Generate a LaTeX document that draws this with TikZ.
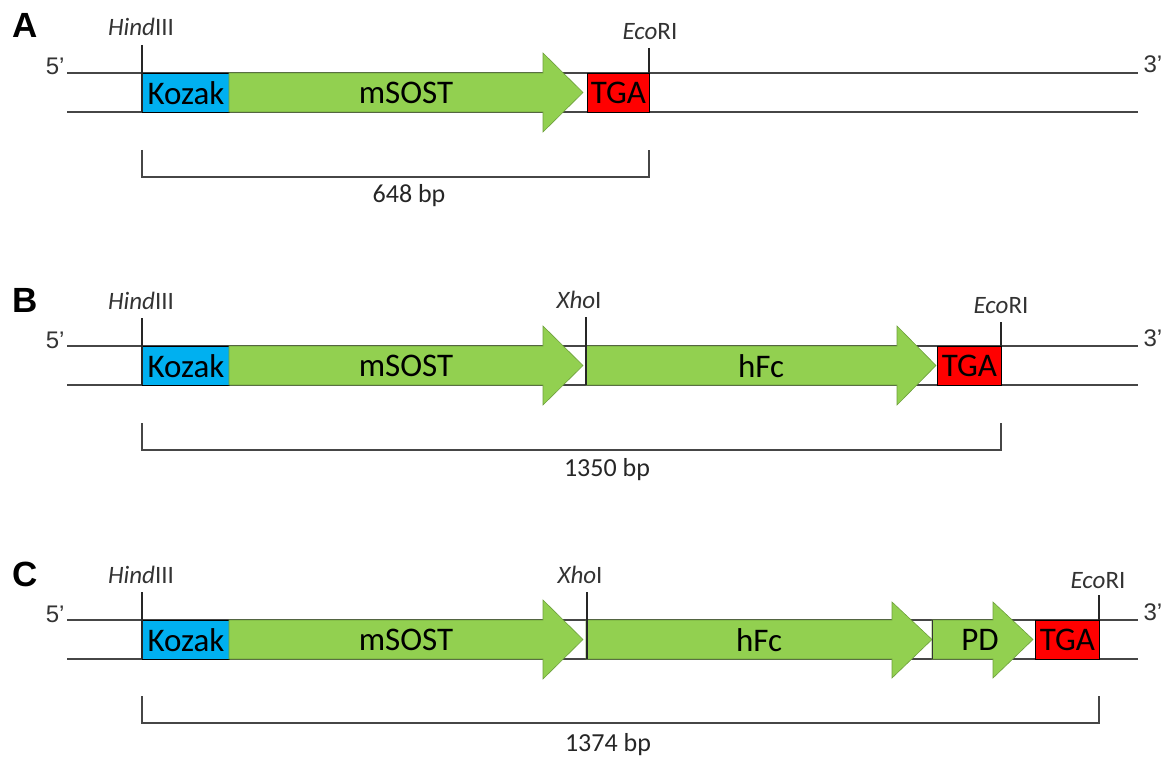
\documentclass[tikz,border=0pt]{standalone}
\usepackage{fontspec}
\setmainfont{Carlito}
\newfontfamily\arialf{Liberation Sans}
\definecolor{gfill}{RGB}{146,208,80}
\definecolor{gline}{RGB}{110,160,60}
\definecolor{kblue}{RGB}{0,176,240}
\definecolor{tred}{RGB}{255,0,0}
\definecolor{strandc}{RGB}{70,70,70}
\tikzset{
  strand/.style={draw=strandc,line width=1.4pt},
  site/.style={draw=black!85,line width=1.1pt},
  brk/.style={draw=strandc,line width=1.4pt},
  boxtxt/.style={font=\fontsize{33}{36}\selectfont},
  kozak/.style={draw=black,line width=0.9pt,fill=kblue,minimum width=87pt,minimum height=39pt,inner sep=0pt,anchor=north west,boxtxt},
  tga/.style={draw=black,line width=0.9pt,fill=tred,minimum height=39pt,inner sep=0pt,anchor=north west,boxtxt},
  gene/.style={fill=gfill,draw=gline,line width=0.6pt},
  sitelbl/.style={font=\fontsize{25}{28}\selectfont,anchor=base,text=black!80},
  bplbl/.style={font=\fontsize{26}{29}\selectfont,anchor=base,text=black!85},
  panellbl/.style={font=\arialf\bfseries\fontsize{35}{38}\selectfont},
  endlbl/.style={font=\arialf\fontsize{24}{26}\selectfont,text=black!80,anchor=base},
}
\begin{document}
\begin{tikzpicture}[x=1pt,y=-1pt]
\useasboundingbox (0,0) rectangle (1170,762);

% ===================== Panel A =====================
\begin{scope}[shift={(0,73)}]
  \node[panellbl] (labA) at (25,-48) {A};
  \coordinate (aS1) at (67,0); \coordinate (aE1) at (1138,0);
  \coordinate (aS2) at (67,39); \coordinate (aE2) at (1138,39);
  \draw[strand] (aS1) -- (aE1);
  \draw[strand] (aS2) -- (aE2);
  \node[endlbl,anchor=base east] (a5) at (68,2) {5’};
  \node[endlbl,anchor=base west] (a3) at (1140,0) {3’};
  \node[kozak] (aKoz) at (142,0) {Kozak};
  \draw[gene] (229,0) -- (543,0) -- (543,-20) -- (583,19.5) -- (543,59) -- (543,39) -- (229,39) -- cycle;
  \node[boxtxt] (aMS) at (406,20) {mSOST};
  \node[tga,minimum width=62pt] (aTGA) at (587,0) {TGA};
  \node[sitelbl] (aHind) at (141,-37) {\textit{Hind}III};
  \coordinate (aH1) at (142,-28); \coordinate (aH2) at (142,39);
  \draw[site] (aH1) -- (aH2);
  \node[sitelbl] (aEco) at (650,-33) {\textit{Eco}RI};
  \coordinate (aE1t) at (649,-25); \coordinate (aE1b) at (649,0);
  \draw[site] (aE1t) -- (aE1b);
  \coordinate (aB1) at (142,77); \coordinate (aB2) at (142,104);
  \coordinate (aB3) at (649,104); \coordinate (aB4) at (649,77);
  \draw[brk] (aB1) -- (aB2) -- (aB3) -- (aB4);
  \node[bplbl] (aBp) at (409,130) {648 bp};
\end{scope}

% ===================== Panel B =====================
\begin{scope}[shift={(0,346)}]
  \node[panellbl] (labB) at (25,-46) {B};
  \coordinate (bS1) at (67,0); \coordinate (bE1) at (1138,0);
  \coordinate (bS2) at (67,39); \coordinate (bE2) at (1138,39);
  \draw[strand] (bS1) -- (bE1);
  \draw[strand] (bS2) -- (bE2);
  \node[endlbl,anchor=base east] (b5) at (68,2) {5’};
  \node[endlbl,anchor=base west] (b3) at (1140,0) {3’};
  \node[kozak] (bKoz) at (142,0) {Kozak};
  \draw[gene] (229,0) -- (543,0) -- (543,-20) -- (583,19.5) -- (543,59) -- (543,39) -- (229,39) -- cycle;
  \node[boxtxt] (bMS) at (406,20) {mSOST};
  \draw[gene] (586,0) -- (897,0) -- (897,-20) -- (936,19.5) -- (897,59) -- (897,39) -- (586,39) -- cycle;
  \node[boxtxt] (bFc) at (761,20) {hFc};
  \node[tga,minimum width=64pt] (bTGA) at (937,0) {TGA};
  \node[sitelbl] (bHind) at (141,-37) {\textit{Hind}III};
  \coordinate (bH1) at (142,-28); \coordinate (bH2) at (142,39);
  \draw[site] (bH1) -- (bH2);
  \node[sitelbl] (bXho) at (579,-38) {\textit{Xho}I};
  \coordinate (bX1) at (586,-29); \coordinate (bX2) at (586,39);
  \draw[site] (bX1) -- (bX2);
  \node[sitelbl] (bEco) at (1001,-33) {\textit{Eco}RI};
  \coordinate (bE1t) at (1001,-24); \coordinate (bE1b) at (1001,0);
  \draw[site] (bE1t) -- (bE1b);
  \coordinate (bB1) at (142,77); \coordinate (bB2) at (142,104);
  \coordinate (bB3) at (1001,104); \coordinate (bB4) at (1001,77);
  \draw[brk] (bB1) -- (bB2) -- (bB3) -- (bB4);
  \node[bplbl] (bBp) at (607,130) {1350 bp};
\end{scope}

% ===================== Panel C =====================
\begin{scope}[shift={(0,620)}]
  \node[panellbl] (labC) at (25,-46) {C};
  \coordinate (cS1) at (67,0); \coordinate (cE1) at (1138,0);
  \coordinate (cS2) at (67,39); \coordinate (cE2) at (1138,39);
  \draw[strand] (cS1) -- (cE1);
  \draw[strand] (cS2) -- (cE2);
  \node[endlbl,anchor=base east] (c5) at (68,2) {5’};
  \node[endlbl,anchor=base west] (c3) at (1140,0) {3’};
  \node[kozak] (cKoz) at (142,0) {Kozak};
  \draw[gene] (229,0) -- (543,0) -- (543,-20) -- (583,19.5) -- (543,59) -- (543,39) -- (229,39) -- cycle;
  \node[boxtxt] (cMS) at (406,20) {mSOST};
  \draw[gene] (586,0) -- (892,0) -- (892,-18) -- (932,19.5) -- (892,58) -- (892,39) -- (586,39) -- cycle;
  \node[boxtxt] (cFc) at (759,20) {hFc};
  \draw[gene] (932,0) -- (993,0) -- (993,-18) -- (1033,19.5) -- (993,58) -- (993,39) -- (932,39) -- cycle;
  \coordinate (cP1) at (932,0); \coordinate (cP2) at (932,39);
  \draw[draw=black!80,line width=0.9pt] (cP1) -- (cP2);
  \node[boxtxt] (cPD) at (980,20) {PD};
  \node[tga,minimum width=64pt] (cTGA) at (1035,0) {TGA};
  \node[sitelbl] (cHind) at (141,-37) {\textit{Hind}III};
  \coordinate (cH1) at (142,-28); \coordinate (cH2) at (142,39);
  \draw[site] (cH1) -- (cH2);
  \node[sitelbl] (cXho) at (580,-37) {\textit{Xho}I};
  \coordinate (cX1) at (587,-28); \coordinate (cX2) at (587,39);
  \draw[site] (cX1) -- (cX2);
  \node[sitelbl] (cEco) at (1098,-32) {\textit{Eco}RI};
  \coordinate (cE1t) at (1099,-25); \coordinate (cE1b) at (1099,0);
  \draw[site] (cE1t) -- (cE1b);
  \coordinate (cB1) at (142,76); \coordinate (cB2) at (142,103);
  \coordinate (cB3) at (1099,103); \coordinate (cB4) at (1099,76);
  \draw[brk] (cB1) -- (cB2) -- (cB3) -- (cB4);
  \node[bplbl] (cBp) at (608,131) {1374 bp};
\end{scope}
\end{tikzpicture}
\end{document}
